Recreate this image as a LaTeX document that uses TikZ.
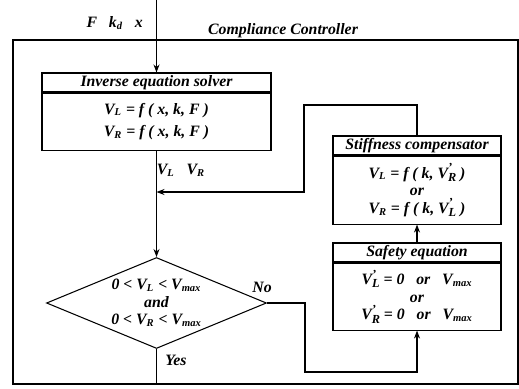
\documentclass[tikz,border=0pt]{standalone}
\usepackage{fontspec}
\setmainfont{Liberation Serif}
\usetikzlibrary{arrows.meta, positioning, shapes.geometric}

\newcommand{\Vsub}[1]{V\textsubscript{#1}}
\newcommand{\Vprime}[1]{V\rlap{\raisebox{0.9ex}{\scriptsize '}}\raisebox{-0.45ex}{\scriptsize #1}}

\begin{document}
\begin{tikzpicture}[
  x=0.02cm, y=-0.02cm,
  font=\bfseries\itshape\fontsize{9}{10}\selectfont,
  head/.style={rectangle, draw, line width=0.6pt, minimum height=0.38cm, inner sep=0pt},
  body/.style={rectangle, draw, line width=0.6pt, inner sep=0pt, align=center},
  test/.style={diamond, draw, line width=0.6pt, aspect=2.4, minimum width=4.4cm, minimum height=1.82cm, inner sep=0pt, align=center},
  arrow/.style={-{Stealth[length=1.6mm, width=1.2mm]}, line width=0.6pt},
  link/.style={line width=0.6pt}
]
\useasboundingbox (0,0) rectangle (519,388);

% Controller frame
\draw[line width=0.8pt] (13,40) rectangle (518,384);
\node (title) at (283,31) {Compliance Controller};

% Inputs from above
\coordinate (in) at (156.5,0);
\node[anchor=east] (inlabel) at (149,23) {F \enspace k\textsubscript{d} \enspace x};

% Inverse equation solver
\node[head, minimum width=4.58cm] (solverhead) at (156.5,82.5) {Inverse equation solver};
\node[body, minimum width=4.58cm, minimum height=1.14cm, below=0pt of solverhead] (solver)
  {\Vsub{L} = f ( x, k, F )\\[3pt] \Vsub{R} = f ( x, k, F )};

% Stiffness compensator
\node[head, minimum width=3.36cm] (stiffhead) at (417,145.5) {Stiffness compensator};
\node[body, minimum width=3.36cm, minimum height=1.36cm, below=0pt of stiffhead] (stiff)
  {\Vsub{L} = f ( k, \Vprime{R} )\\ or\\ \Vsub{R} = f ( k, \Vprime{L} )};

% Safety equation
\node[head, minimum width=3.36cm] (safetyhead) at (417,252.5) {Safety equation};
\node[body, minimum width=3.36cm, minimum height=1.34cm, below=0pt of safetyhead] (safety)
  {\Vprime{L} = 0 \enspace or \enspace \Vsub{max}\\ or\\ \Vprime{R} = 0 \enspace or \enspace \Vsub{max}};

% Range check
\node[test] (check) at (156.5,303)
  {0 < \Vsub{L} < \Vsub{max}\\ and\\ 0 < \Vsub{R} < \Vsub{max}};

% Connectors
\coordinate (fbtop) at (304,105);
\coordinate (fbdrop) at (304,192);
\coordinate (nocorner) at (305,372);
\coordinate (exit) at (156.5,384);

\draw[arrow] (in) -- (solverhead.north);
\draw[arrow] (solver.south) -- (check.north);
\node (vout) at (181,170) {\Vsub{L} \enspace \Vsub{R}};

\draw[arrow] (stiffhead.north) |- (fbtop) -- (fbdrop) -- (fbdrop -| solver.south);
\draw[arrow] (safetyhead.north) -- (stiff.south);

\draw[arrow] (check.east) -| (nocorner) -| (safety.south);
\node (no) at (262,287) {No};

\draw[link] (check.south) -- (exit);
\node (yes) at (176,360) {Yes};

\end{tikzpicture}
\end{document}
